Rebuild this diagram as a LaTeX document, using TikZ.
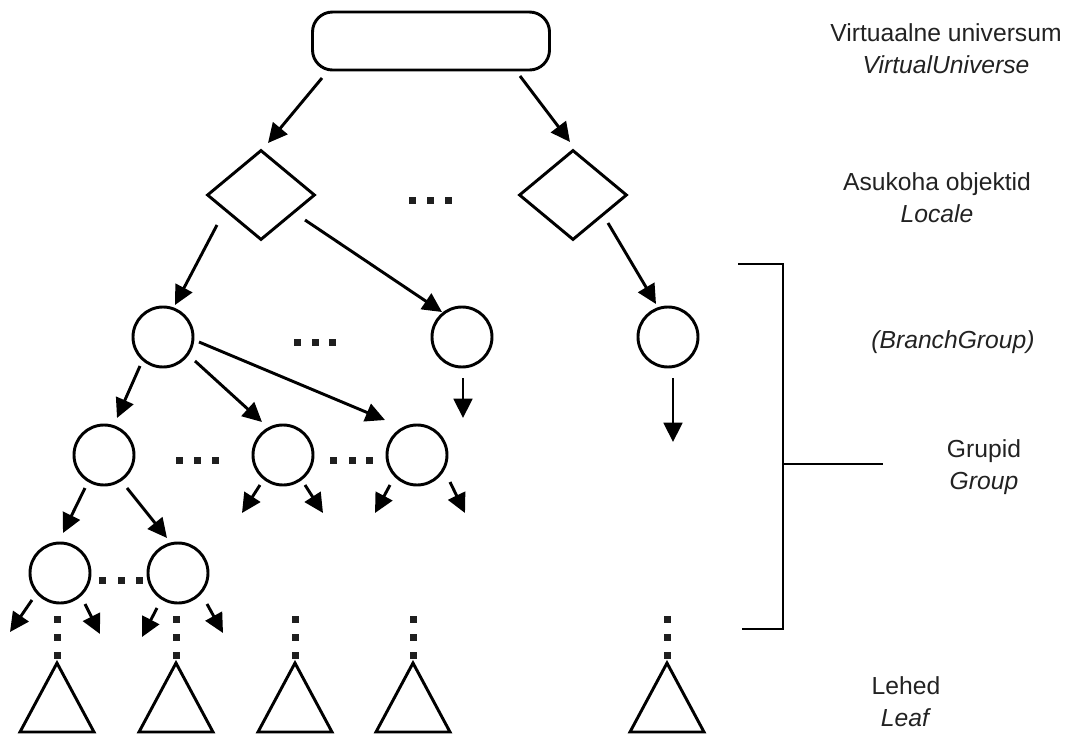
\documentclass[tikz,border=0pt]{standalone}
\usepackage{fontspec}
\setmainfont{Liberation Sans}
\usetikzlibrary{shapes.geometric,arrows.meta,calc}
\definecolor{txt}{HTML}{222222}
\tikzset{
  ln/.style={line width=2.2pt, draw=black},
  arr/.style={ln, -{Triangle[length=14.5pt,width=14pt]}},
  circ/.style={circle, ln, minimum size=45pt, inner sep=0pt},
  dia/.style={diamond, ln, minimum width=81pt, minimum height=67.5pt, inner sep=0pt},
  topbox/.style={rectangle, ln, rounded corners=15pt, minimum width=177.75pt, minimum height=43.5pt, inner sep=0pt},
  tri/.style={ln, line join=miter},
  lbl/.style={text=txt, font=\fontsize{18.5pt}{24pt}\selectfont, align=center, inner sep=0pt},
  dotc/.style={fill=black!88}
}
\begin{document}
\begin{tikzpicture}[x=0.75pt,y=-0.75pt]
\useasboundingbox (0,0) rectangle (1065,736);
% nodes
\node[topbox] (box) at (431,41) {};
\node[dia] (d1) at (261,195) {};
\node[dia] (d2) at (573,195) {};
\node[circ] (c1) at (163,337) {};
\node[circ] (c2) at (462,337) {};
\node[circ] (c3) at (668,337) {};
\node[circ] (g1) at (104,455) {};
\node[circ] (g2) at (283,455) {};
\node[circ] (g3) at (417,455) {};
\node[circ] (h1) at (60,573) {};
\node[circ] (h2) at (178,573) {};
% connectors
\draw[arr] ($(box)+(-109,37)$) -- ($(d1)+(7,-52)$);
\draw[arr] ($(box)+(89,35)$) -- ($(d2)+(-3,-53)$);
\draw[arr] ($(d1)+(-44,30)$) -- ($(c1)+(12,-32)$);
\draw[arr] ($(d1)+(44,25)$) -- ($(c2)+(-20,-25)$);
\draw[arr] ($(d2)+(35,28)$) -- ($(c3)+(-12,-33)$);
\draw[arr] ($(c1)+(-23,29)$) -- ($(g1)+(13,-37)$);
\draw[arr] ($(c1)+(32,24)$) -- ($(g2)+(-21,-33)$);
\draw[arr] ($(c1)+(36,5)$) -- ($(g3)+(-32,-35)$);
\draw[arr] ($(g1)+(-19,33)$) -- ($(h1)+(3,-40)$);
\draw[arr] ($(g1)+(23,33)$) -- ($(h2)+(-11,-35)$);
% stubs
\draw[arr] ($(c2)+(1,41)$) -- ($(c2)+(1,81)$);
\draw[arr] ($(c3)+(5,41)$) -- ($(c3)+(5,105)$);
\draw[arr] ($(g2)+(-23,30)$) -- ($(g2)+(-41,58)$);
\draw[arr] ($(g2)+(22,30)$) -- ($(g2)+(40,58)$);
\draw[arr] ($(g3)+(-27,30)$) -- ($(g3)+(-42,58)$);
\draw[arr] ($(g3)+(33,27)$) -- ($(g3)+(48,58)$);
\draw[arr] ($(h1)+(-28,27)$) -- ($(h1)+(-50,59)$);
\draw[arr] ($(h1)+(25,31)$) -- ($(h1)+(40,61)$);
\draw[arr] ($(h2)+(-21,35)$) -- ($(h2)+(-36,64)$);
\draw[arr] ($(h2)+(29,31)$) -- ($(h2)+(45,60)$);
% horizontal dots
\foreach \x/\y in {412/200,430/200,448/200, 297/342,315/342,332/342,
  179/460,197/460,215/460, 333/460,352/460,369/460, 102/580,121/580,139/580}
  \fill[dotc] (\x-3.5,\y-3.5) rectangle ++(7,7);
% vertical dots and leaves
\foreach \x in {57,176,295,413,667}{
  \foreach \y in {619,637,655}
    \fill[dotc] (\x-3.5,\y-3.5) rectangle ++(7,7);
  \draw[tri] (\x,663) -- ++(-37,69) -- ++(74,0) -- cycle;
}
% bracket
\coordinate (bt) at (738,264);
\coordinate (bb) at (742,629);
\coordinate (bm) at (783,464);
\coordinate (be) at (883,464);
\draw[ln] (bt) -- (783,264) -- (783,629) -- (bb);
\draw[ln] (bm) -- (be);
% labels
\node[lbl] (l1) at (946,49) {Virtuaalne universum\\\textit{VirtualUniverse}};
\node[lbl] (l2) at (937,198) {Asukoha objektid\\\textit{Locale}};
\node[lbl] (l3) at (953,342) {\textit{(BranchGroup)}};
\node[lbl] (l4) at (984,467) {Grupid\\\textit{Group}};
\node[lbl] (l5) at (906,702) {Lehed\\\textit{Leaf}};
\end{tikzpicture}
\end{document}
